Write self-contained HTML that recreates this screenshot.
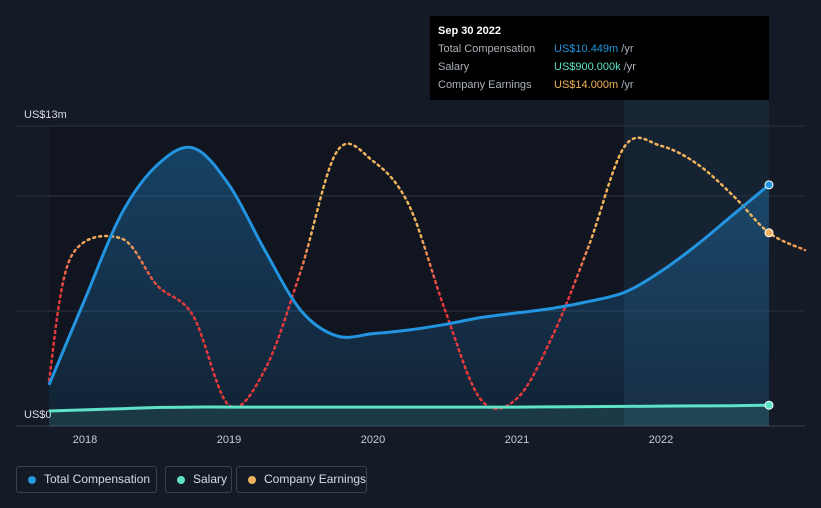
<!DOCTYPE html>
<html><head><meta charset="utf-8"><style>
body{margin:0;background:#151b26;font-family:"Liberation Sans",sans-serif;}
#wrap{position:relative;width:821px;height:508px;overflow:hidden;background:#151b26;}
svg{position:absolute;left:0;top:0}
.tip{position:absolute;left:430px;top:16px;width:339px;height:84px;background:#000;color:#fff;font-size:11px;}
.tip div{position:absolute;left:8px;white-space:nowrap}
.legend{position:absolute;top:466px;height:27px;border:1px solid #3a414d;border-radius:3px;color:#d8dbe0;font-size:12px;line-height:25px;padding:0 0 0 27px;box-sizing:border-box;white-space:nowrap}
.legend i{position:absolute;left:11px;top:9px;width:8px;height:8px;border-radius:50%}
</style></head><body>
<div id="wrap">
<svg id="chart" width="821" height="508"></svg>
<div class="tip">
<div style="top:9px;font-weight:bold">Sep 30 2022</div>
<div style="top:27px;color:#aab0b9">Total Compensation</div>
<div style="top:27px;left:124px;color:#2394df">US$10.449m <span style="color:#aab0b9">/yr</span></div>
<div style="top:45px;color:#aab0b9">Salary</div>
<div style="top:45px;left:124px;color:#5fe3c8">US$900.000k <span style="color:#aab0b9">/yr</span></div>
<div style="top:63px;color:#aab0b9">Company Earnings</div>
<div style="top:63px;left:124px;color:#f0b35c">US$14.000m <span style="color:#aab0b9">/yr</span></div>
</div>
<div class="legend" style="left:16px;width:141px"><i style="background:#2394df"></i>Total Compensation</div>
<div class="legend" style="left:165px;width:67px"><i style="background:#5fe3c8"></i>Salary</div>
<div class="legend" style="left:236px;width:131px"><i style="background:#f0b35c"></i>Company Earnings</div>
</div>
<script>
const years=[2017.75,2018,2018.25,2018.5,2018.75,2019,2019.25,2019.5,2019.75,2020,2020.25,2020.5,2020.75,2021,2021.25,2021.5,2021.75,2022,2022.25,2022.5,2022.75];
const totalComp=[1.78,5.5,9.15,11.3,12.05,10.45,7.6,5.0,3.9,4.0,4.16,4.4,4.7,4.9,5.1,5.4,5.8,6.7,7.85,9.15,10.449];
const salary=[0.65,0.7,0.75,0.8,0.82,0.82,0.82,0.82,0.82,0.82,0.82,0.82,0.82,0.82,0.83,0.84,0.85,0.86,0.87,0.88,0.9];
const earnYears=[2017.75,2017.9,2018.25,2018.5,2018.75,2019,2019.25,2019.5,2019.75,2020,2020.25,2020.5,2020.75,2021,2021.25,2021.5,2021.75,2022,2022.25,2022.5,2022.75,2023];
const earnings=[3.3,12.2,13.6,10.2,8,1.5,4.1,11.3,19.9,19.2,16,8.4,1.9,2,6.6,13.1,20.3,20.3,19.0,16.7,14.0,12.75];
const xTicks=[2018,2019,2020,2021,2022];
const yTickLabels=["US$0","US$13m"];
const x=v=>85+(v-2018)*144;
const y=v=>426-v*23.08;
const ye=v=>426-v*13.8;
const svg=document.getElementById('chart');const NS='http://www.w3.org/2000/svg';
function mk(t,a,name){const e=document.createElementNS(NS,t);for(const k in a)e.setAttribute(k,a[k]);


svg.appendChild(e);return e;}
function path(pts){let d='M'+pts[0][0]+','+pts[0][1];for(let i=0;i<pts.length-1;i++){const p0=pts[Math.max(i-1,0)],p1=pts[i],p2=pts[i+1],p3=pts[Math.min(i+2,pts.length-1)];
d+=' C'+(p1[0]+(p2[0]-p0[0])/6)+','+(p1[1]+(p2[1]-p0[1])/6)+' '+(p2[0]-(p3[0]-p1[0])/6)+','+(p2[1]-(p3[1]-p1[1])/6)+' '+p2[0]+','+p2[1];}return d;}
const defs=document.createElementNS(NS,'defs');defs.innerHTML='<linearGradient id="eg" gradientUnits="userSpaceOnUse" x1="0" y1="426" x2="0" y2="130"><stop offset="0" stop-color="#e8383c"/><stop offset="0.45" stop-color="#e8383c"/><stop offset="0.65" stop-color="#f0b35c"/><stop offset="1" stop-color="#f0b35c"/></linearGradient><linearGradient id="ag" x1="0" y1="0" x2="0" y2="1"><stop offset="0" stop-color="#2394df" stop-opacity="0.35"/><stop offset="1" stop-color="#2394df" stop-opacity="0.1"/></linearGradient>';svg.appendChild(defs);
mk('rect',{x:x(2017.75),y:126,width:x(2022.75)-x(2017.75),height:300,fill:'#101520'},'plot-background');
mk('rect',{x:624,y:100,width:x(2022.75)-624,height:326,fill:'#1a2a3c',opacity:0.7},'highlight-region');
[126,196,311].forEach(g=>mk('line',{x1:16,x2:805,y1:g,y2:g,stroke:'#2c3340'},'gridline'));
mk('line',{x1:16,x2:805,y1:426,y2:426,stroke:'#3a414d'},'x-axis');
xTicks.forEach(t=>{const e=mk('text',{x:x(t),y:443,fill:'#c8ccd2','font-size':11,'text-anchor':'middle'},'x-tick-label');e.textContent=t;});
const l0=mk('text',{x:24,y:418,fill:'#d8dbe0','font-size':11},'y-tick-label');l0.textContent=yTickLabels[0];
const l1=mk('text',{x:24,y:118,fill:'#d8dbe0','font-size':11},'y-tick-label');l1.textContent=yTickLabels[1];
const cp=years.map((v,i)=>[x(v),y(totalComp[i])]);
mk('path',{d:path(cp)+' L'+x(2022.75)+',426 L'+x(2017.75)+',426 Z',fill:'url(#ag)'},'total-compensation-area');
const sp=years.map((v,i)=>[x(v),y(salary[i])]);
mk('path',{d:path(sp)+' L'+x(2022.75)+',426 L'+x(2017.75)+',426 Z',fill:'#5fe3c8',opacity:0.12},'salary-area');
mk('path',{d:path(earnYears.map((v,i)=>[x(v),ye(earnings[i])])),fill:'none',stroke:'url(#eg)','stroke-width':2.5,'stroke-dasharray':'2 4','stroke-linecap':'round'},'earnings-line');
mk('path',{d:path(sp),fill:'none',stroke:'#5fe3c8','stroke-width':3},'salary-line');
mk('path',{d:path(cp),fill:'none',stroke:'#2394df','stroke-width':3},'total-compensation-line');
const li=years.length-1;
mk('circle',{cx:x(years[li]),cy:y(totalComp[li]),r:4,fill:'#2394df',stroke:'#fff','stroke-width':1},'total-compensation-marker');
mk('circle',{cx:x(years[li]),cy:y(salary[li]),r:4,fill:'#5fe3c8',stroke:'#fff','stroke-width':1},'salary-marker');
mk('circle',{cx:x(2022.75),cy:ye(earnings[20]),r:4,fill:'#f0b35c',stroke:'#fff','stroke-width':1},'earnings-marker');
</script>
</body></html>
